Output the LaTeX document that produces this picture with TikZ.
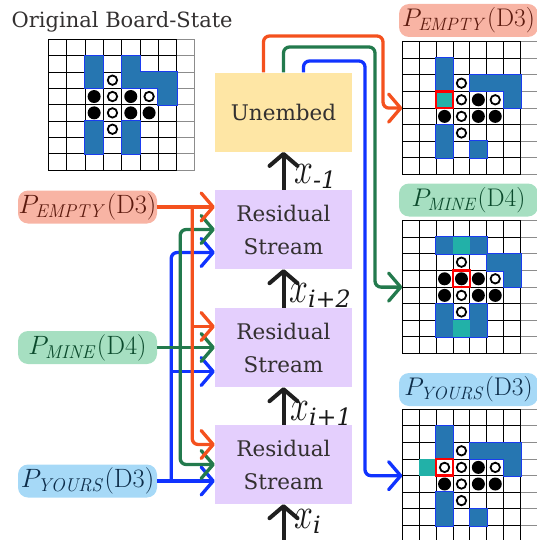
\RequirePackage{fix-cm}
\documentclass[tikz,border=0pt]{standalone}
\usepackage{amsmath}
\usepackage{graphicx}
\usepackage[no-math]{fontspec}
\setmainfont{DejaVu Serif}
\usetikzlibrary{arrows.meta,calc}
\definecolor{oran}{HTML}{F4511E}
\definecolor{gre}{HTML}{237A4D}
\definecolor{blu}{HTML}{1033FF}
\definecolor{salm}{HTML}{F8B4A4}
\definecolor{salmtxt}{HTML}{5C1A0E}
\definecolor{mint}{HTML}{A6DFC1}
\definecolor{minttxt}{HTML}{0B4A2C}
\definecolor{sky}{HTML}{A6D9F7}
\definecolor{skytxt}{HTML}{0D2D4A}
\definecolor{lav}{HTML}{E4CFFD}
\definecolor{yel}{HTML}{FEE6A5}
\definecolor{txtdark}{HTML}{333030}
\definecolor{cellblue}{HTML}{2676B1}
\definecolor{cellbord}{HTML}{1A3CF0}
\definecolor{teal}{HTML}{22B1A8}
\newcommand\bgrid{%
  \foreach \i in {0,...,7}{\draw[gridl] (\i,0) -- (\i,8);}
  \draw[gridg] (8,0) -- (8,8);
  \foreach \j in {0,...,8}{\draw[gridl] (0,\j) -- (7,\j); \draw[gridg] (7,\j) -- (8,\j);}
}
\newcommand\bborder[1]{\foreach \r/\c in {#1}{\draw[cellbord,line width=2pt] (\c,\r) rectangle ++(1,1);}}
\newcommand\bfillc[2]{\foreach \r/\c in {#2}{\fill[#1] (\c,\r) rectangle ++(1,1);}}
\newcommand\bblack[1]{\foreach \r/\c in {#1}{\fill[black] (\c+0.5,\r+0.5) circle (6.5pt);}}
\newcommand\bwhite[1]{\foreach \r/\c in {#1}{\draw[black,line width=1.8pt,fill=white] (\c+0.5,\r+0.5) circle (4.7pt);}}
\newcommand\bred[1]{\foreach \r/\c in {#1}{\draw[red,line width=2.5pt] (\c,\r) rectangle ++(1,1);}}
\begin{document}
\begin{tikzpicture}[x=1pt,y=-1pt,
  every node/.style={inner sep=0pt},
  plabel/.style={rounded corners=10pt, minimum width=139pt, minimum height=33pt, font=\fontsize{26.5}{26.5}\selectfont},
  rlabel/.style={plabel, font=\fontsize{25.5}{25.5}\selectfont},
  blockbox/.style={minimum width=137pt, minimum height=79pt, align=center, text=txtdark, font=\fontsize{21.5}{33}\selectfont},
  conn/.style={line width=3.3pt, rounded corners=6pt, -{Straight Barb[length=12pt,width=28pt,round]}},
  flowup/.style={line width=4pt, black!88, -{Straight Barb[length=12pt,width=28pt,round]}},
  xlab/.style={anchor=base west, font=\fontsize{34}{34}\selectfont, text=black!90},
  gridl/.style={line width=0.9pt, black},
  gridg/.style={line width=0.9pt, black!45},
  boardat/.style n args={4}{shift={(#1,#2)}, x=#3pt, y=-#4pt},
]
\useasboundingbox (0,0) rectangle (537,540);

% title
\node[anchor=base west, font=\fontsize{21}{21}\selectfont, text=txtdark] (title) at (11.5,28) {Original Board-State};

% original board
\begin{scope}[boardat={48.3}{39.3}{18.33}{16.35}]
  \bgrid
  \bborder{1/2,1/4,2/2,2/4,2/5,2/6,3/6,5/2,5/4,6/2,6/4}
  \bfillc{cellblue}{1/2,1/4,2/2,2/4,2/5,2/6,3/6,5/2,5/4,6/2,6/4}
  \bblack{3/2,3/4,4/2,4/4,4/5}
  \bwhite{2/3,3/3,3/5,4/3,5/3}
\end{scope}

% board 1 : P_EMPTY
\coordinate (B1) at (402.3,41.7);
\begin{scope}[boardat={402.3}{41.7}{16.9}{16.6}]
  \bgrid
  \bborder{1/2,2/2,2/4,2/5,2/6,3/6,5/2,6/2,6/4}
  \bfillc{cellblue}{1/2,2/2,2/4,2/5,2/6,3/6,5/2,6/2,6/4}
  \bfillc{teal}{3/2}
  \bred{3/2}
  \bblack{3/4,4/2,4/4,4/5}
  \bwhite{2/3,3/3,3/5,4/3,5/3}
\end{scope}

% board 2 : P_MINE
\coordinate (B2) at (402.3,220.7);
\begin{scope}[boardat={402.3}{220.7}{16.9}{16.6}]
  \bgrid
  \bborder{1/2,1/3,1/4,2/5,2/6,3/6,5/2,5/4,6/2,6/3,6/4}
  \bfillc{cellblue}{1/2,1/4,2/5,2/6,3/6,5/2,5/4,6/2,6/4}
  \bfillc{teal}{1/3,6/3}
  \bred{3/3}
  \bblack{3/2,3/3,3/4,4/2,4/4,4/5}
  \bwhite{2/3,3/5,4/3,5/3}
\end{scope}

% board 3 : P_YOURS
\coordinate (B3) at (402.3,409.3);
\begin{scope}[boardat={402.3}{409.3}{16.9}{16.6}]
  \bgrid
  \bborder{1/2,2/2,2/4,2/5,2/6,3/6,5/2,6/2,6/4}
  \bfillc{cellblue}{1/2,2/2,2/4,2/5,2/6,3/6,5/2,6/2,6/4}
  \bfillc{teal}{3/1}
  \bred{3/2}
  \bblack{3/4,4/2,4/4,4/5}
  \bwhite{3/2,2/3,3/3,3/5,4/3,5/3}
\end{scope}

% right labels
\node[rlabel, fill=salm, text=salmtxt] (re) at (468.5,20.5) {$P_{\mathit{EMPTY}}(\mathrm{D3})$};
\node[rlabel, fill=mint, text=minttxt] (rm) at (468.5,200) {$P_{\mathit{MINE}}(\mathrm{D4})$};
\node[rlabel, fill=sky, text=skytxt] (ry) at (468.5,389.5) {$P_{\mathit{YOURS}}(\mathrm{D3})$};

% left labels
\node[plabel, fill=salm, text=salmtxt] (le) at (87.5,207) {$P_{\mathit{EMPTY}}(\mathrm{D3})$};
\node[plabel, fill=mint, text=minttxt] (lm) at (87.5,347.5) {$P_{\mathit{MINE}}(\mathrm{D4})$};
\node[plabel, fill=sky, text=skytxt] (ly) at (87.5,481) {$P_{\mathit{YOURS}}(\mathrm{D3})$};

% blocks
\node[blockbox, fill=yel] (unembed) at (283.5,112.2) {Unembed};
\node[blockbox, fill=lav] (rs1) at (283.5,229.5) {Residual\\Stream};
\node[blockbox, fill=lav] (rs2) at (283.5,347.5) {Residual\\Stream};
\node[blockbox, fill=lav] (rs3) at (283.5,464.5) {Residual\\Stream};

% black flow
\coordinate (xin) at (283.5,545);
\draw[flowup] (rs1.north) -- (unembed.south);
\draw[flowup] (rs2.north) -- (rs1.south);
\draw[flowup] (rs3.north) -- (rs2.south);
\draw[flowup] (xin) -- (rs3.south);
\node[xlab] (x1) at (294,183) {$\scalebox{1}[1.3]{$x$}_{\textit{-1}}$};
\node[xlab] (x2) at (289,302) {$\scalebox{1}[1.3]{$x$}_{\textit{i+2}}$};
\node[xlab] (x3) at (290,420) {$\scalebox{1}[1.3]{$x$}_{\textit{i+1}}$};
\node[xlab] (x4) at (294,528) {$\scalebox{1}[1.3]{$x$}_{\textit{i}}$};

% left connectors
\coordinate (oj) at ([xshift=35pt]le.east);
\coordinate (gj) at ([xshift=23pt]lm.east);
\coordinate (bj) at ([xshift=14pt]ly.east);
\coordinate (o2) at ([yshift=21pt]rs2.west);
\coordinate (b2) at ([yshift=-24pt]rs2.west);
\draw[conn, blu] (ly.east) -- (rs3.west |- ly.east);
\draw[conn, blu] (bj) |- ([yshift=-23pt]rs1.west);
\draw[conn, blu] (bj |- b2) -- (b2);
\draw[conn, gre] (lm.east) -- (rs2.west |- lm.east);
\draw[conn, gre] (gj) |- (rs1.west);
\draw[conn, gre] (gj) |- (rs3.west);
\draw[conn, oran] (le.east) -- (rs1.west |- le.east);
\draw[conn, oran] (oj) |- ([yshift=20pt]rs3.west);
\draw[conn, oran] (oj |- o2) -- (o2);

% right connectors
\coordinate (oc) at (383,36);
\coordinate (gc) at (375,47);
\coordinate (bc) at (365,61);
\draw[conn, oran] ([xshift=-20pt]unembed.north) |- (oc) |- ([yshift=-66.4pt]B1);
\draw[conn, gre] (unembed.north) |- (gc) |- ([yshift=-66.4pt]B2);
\draw[conn, blu] ([xshift=20pt]unembed.north) |- (bc) |- ([yshift=-66.4pt]B3);
\end{tikzpicture}
\end{document}
